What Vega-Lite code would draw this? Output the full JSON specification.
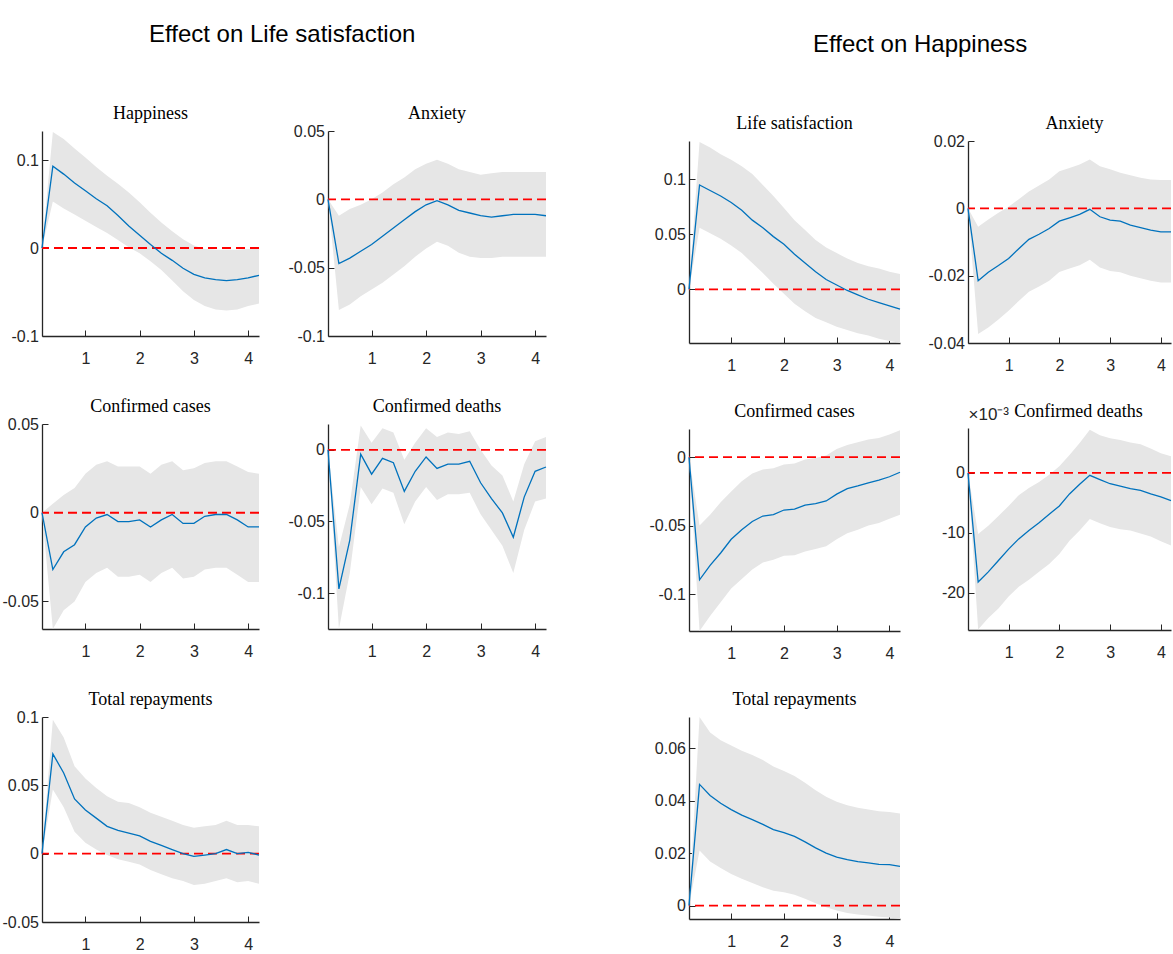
{
"$schema": "https://vega.github.io/schema/vega-lite/v6.json",
"background": "white",
"padding": {"left": 2, "top": 23, "right": 0, "bottom": 0},
"datasets": {
"L_hap": [
{"t":0.2,"m":0,"lo":0,"hi":0},{"t":0.4,"m":0.093,"lo":0.053,"hi":0.132},{"t":0.6,"m":0.084,"lo":0.045,"hi":0.124},{"t":0.8,"m":0.074,"lo":0.038,"hi":0.113},{"t":1.0,"m":0.065,"lo":0.031,"hi":0.103},{"t":1.2,"m":0.056,"lo":0.024,"hi":0.092},{"t":1.4,"m":0.048,"lo":0.017,"hi":0.082},{"t":1.6,"m":0.037,"lo":0.009,"hi":0.073},{"t":1.8,"m":0.025,"lo":0.001,"hi":0.063},{"t":2.0,"m":0.0145,"lo":-0.006,"hi":0.052},{"t":2.2,"m":0.004,"lo":-0.015,"hi":0.040},{"t":2.4,"m":-0.006,"lo":-0.025,"hi":0.029},{"t":2.6,"m":-0.014,"lo":-0.037,"hi":0.019},{"t":2.8,"m":-0.023,"lo":-0.049,"hi":0.010},{"t":3.0,"m":-0.030,"lo":-0.059,"hi":0.003},{"t":3.2,"m":-0.034,"lo":-0.066,"hi":-0.001},{"t":3.4,"m":-0.036,"lo":-0.070,"hi":-0.002},{"t":3.6,"m":-0.037,"lo":-0.071,"hi":-0.002},{"t":3.8,"m":-0.036,"lo":-0.070,"hi":-0.002},{"t":4.0,"m":-0.034,"lo":-0.066,"hi":-0.001},{"t":4.2,"m":-0.031,"lo":-0.063,"hi":-0.001}],
"L_anx": [
{"t":0.2,"m":0,"lo":0,"hi":0},{"t":0.4,"m":-0.047,"lo":-0.081,"hi":-0.012},{"t":0.6,"m":-0.043,"lo":-0.077,"hi":-0.007},{"t":0.8,"m":-0.038,"lo":-0.071,"hi":-0.004},{"t":1.0,"m":-0.033,"lo":-0.066,"hi":0.0},{"t":1.2,"m":-0.027,"lo":-0.061,"hi":0.005},{"t":1.4,"m":-0.021,"lo":-0.055,"hi":0.011},{"t":1.6,"m":-0.015,"lo":-0.049,"hi":0.016},{"t":1.8,"m":-0.009,"lo":-0.042,"hi":0.022},{"t":2.0,"m":-0.004,"lo":-0.036,"hi":0.026},{"t":2.2,"m":-0.001,"lo":-0.031,"hi":0.029},{"t":2.4,"m":-0.004,"lo":-0.034,"hi":0.026},{"t":2.6,"m":-0.008,"lo":-0.039,"hi":0.022},{"t":2.8,"m":-0.010,"lo":-0.042,"hi":0.020},{"t":3.0,"m":-0.012,"lo":-0.043,"hi":0.018},{"t":3.2,"m":-0.013,"lo":-0.043,"hi":0.019},{"t":3.4,"m":-0.012,"lo":-0.042,"hi":0.020},{"t":3.6,"m":-0.011,"lo":-0.042,"hi":0.020},{"t":3.8,"m":-0.011,"lo":-0.042,"hi":0.020},{"t":4.0,"m":-0.011,"lo":-0.042,"hi":0.020},{"t":4.2,"m":-0.012,"lo":-0.042,"hi":0.020}],
"L_cas": [
{"t":0.2,"m":0,"lo":0,"hi":0},{"t":0.4,"m":-0.032,"lo":-0.0655,"hi":0.005},{"t":0.6,"m":-0.022,"lo":-0.055,"hi":0.010},{"t":0.8,"m":-0.018,"lo":-0.050,"hi":0.014},{"t":1.0,"m":-0.008,"lo":-0.039,"hi":0.022},{"t":1.2,"m":-0.003,"lo":-0.034,"hi":0.027},{"t":1.4,"m":-0.001,"lo":-0.031,"hi":0.029},{"t":1.6,"m":-0.005,"lo":-0.036,"hi":0.026},{"t":1.8,"m":-0.005,"lo":-0.036,"hi":0.026},{"t":2.0,"m":-0.004,"lo":-0.035,"hi":0.026},{"t":2.2,"m":-0.008,"lo":-0.039,"hi":0.022},{"t":2.4,"m":-0.004,"lo":-0.034,"hi":0.027},{"t":2.6,"m":-0.001,"lo":-0.031,"hi":0.029},{"t":2.8,"m":-0.006,"lo":-0.037,"hi":0.024},{"t":3.0,"m":-0.006,"lo":-0.036,"hi":0.025},{"t":3.2,"m":-0.002,"lo":-0.032,"hi":0.028},{"t":3.4,"m":-0.001,"lo":-0.031,"hi":0.029},{"t":3.6,"m":-0.001,"lo":-0.031,"hi":0.029},{"t":3.8,"m":-0.004,"lo":-0.035,"hi":0.026},{"t":4.0,"m":-0.008,"lo":-0.039,"hi":0.023},{"t":4.2,"m":-0.008,"lo":-0.039,"hi":0.022}],
"L_dea": [
{"t":0.2,"m":0,"lo":0,"hi":0},{"t":0.4,"m":-0.097,"lo":-0.125,"hi":-0.068},{"t":0.6,"m":-0.063,"lo":-0.086,"hi":-0.038},{"t":0.8,"m":-0.003,"lo":-0.026,"hi":0.017},{"t":1.0,"m":-0.017,"lo":-0.038,"hi":0.005},{"t":1.2,"m":-0.006,"lo":-0.027,"hi":0.015},{"t":1.4,"m":-0.009,"lo":-0.030,"hi":0.012},{"t":1.6,"m":-0.029,"lo":-0.052,"hi":-0.007},{"t":1.8,"m":-0.015,"lo":-0.036,"hi":0.005},{"t":2.0,"m":-0.005,"lo":-0.026,"hi":0.015},{"t":2.2,"m":-0.013,"lo":-0.035,"hi":0.009},{"t":2.4,"m":-0.010,"lo":-0.031,"hi":0.012},{"t":2.6,"m":-0.010,"lo":-0.031,"hi":0.011},{"t":2.8,"m":-0.008,"lo":-0.030,"hi":0.013},{"t":3.0,"m":-0.023,"lo":-0.045,"hi":0.0},{"t":3.2,"m":-0.034,"lo":-0.056,"hi":-0.011},{"t":3.4,"m":-0.044,"lo":-0.067,"hi":-0.018},{"t":3.6,"m":-0.061,"lo":-0.086,"hi":-0.036},{"t":3.8,"m":-0.033,"lo":-0.056,"hi":-0.010},{"t":4.0,"m":-0.015,"lo":-0.036,"hi":0.006},{"t":4.2,"m":-0.012,"lo":-0.034,"hi":0.009}],
"L_rep": [
{"t":0.2,"m":0,"lo":0,"hi":0},{"t":0.4,"m":0.073,"lo":0.047,"hi":0.098},{"t":0.6,"m":0.059,"lo":0.034,"hi":0.085},{"t":0.8,"m":0.040,"lo":0.016,"hi":0.064},{"t":1.0,"m":0.032,"lo":0.008,"hi":0.055},{"t":1.2,"m":0.026,"lo":0.003,"hi":0.048},{"t":1.4,"m":0.020,"lo":-0.001,"hi":0.042},{"t":1.6,"m":0.017,"lo":-0.004,"hi":0.038},{"t":1.8,"m":0.015,"lo":-0.006,"hi":0.037},{"t":2.0,"m":0.013,"lo":-0.008,"hi":0.034},{"t":2.2,"m":0.009,"lo":-0.012,"hi":0.030},{"t":2.4,"m":0.006,"lo":-0.015,"hi":0.027},{"t":2.6,"m":0.003,"lo":-0.018,"hi":0.024},{"t":2.8,"m":0.0,"lo":-0.020,"hi":0.021},{"t":3.0,"m":-0.002,"lo":-0.023,"hi":0.019},{"t":3.2,"m":-0.001,"lo":-0.022,"hi":0.020},{"t":3.4,"m":0.0,"lo":-0.020,"hi":0.021},{"t":3.6,"m":0.003,"lo":-0.018,"hi":0.024},{"t":3.8,"m":0.0,"lo":-0.021,"hi":0.021},{"t":4.0,"m":0.001,"lo":-0.020,"hi":0.021},{"t":4.2,"m":-0.001,"lo":-0.022,"hi":0.020}],
"R_lif": [
{"t":0.2,"m":0,"lo":0,"hi":0},{"t":0.4,"m":0.095,"lo":0.056,"hi":0.134},{"t":0.6,"m":0.090,"lo":0.051,"hi":0.129},{"t":0.8,"m":0.085,"lo":0.046,"hi":0.123},{"t":1.0,"m":0.079,"lo":0.040,"hi":0.118},{"t":1.2,"m":0.072,"lo":0.033,"hi":0.112},{"t":1.4,"m":0.063,"lo":0.024,"hi":0.105},{"t":1.6,"m":0.056,"lo":0.015,"hi":0.095},{"t":1.8,"m":0.048,"lo":0.005,"hi":0.085},{"t":2.0,"m":0.041,"lo":-0.004,"hi":0.074},{"t":2.2,"m":0.032,"lo":-0.013,"hi":0.063},{"t":2.4,"m":0.024,"lo":-0.020,"hi":0.054},{"t":2.6,"m":0.016,"lo":-0.026,"hi":0.045},{"t":2.8,"m":0.009,"lo":-0.030,"hi":0.038},{"t":3.0,"m":0.004,"lo":-0.034,"hi":0.033},{"t":3.2,"m":-0.001,"lo":-0.037,"hi":0.028},{"t":3.4,"m":-0.005,"lo":-0.040,"hi":0.024},{"t":3.6,"m":-0.009,"lo":-0.042,"hi":0.021},{"t":3.8,"m":-0.012,"lo":-0.045,"hi":0.019},{"t":4.0,"m":-0.015,"lo":-0.047,"hi":0.016},{"t":4.2,"m":-0.018,"lo":-0.0485,"hi":0.014}],
"R_anx": [
{"t":0.2,"m":0,"lo":0,"hi":0},{"t":0.4,"m":-0.0215,"lo":-0.0373,"hi":-0.0055},{"t":0.6,"m":-0.019,"lo":-0.0354,"hi":-0.0033},{"t":0.8,"m":-0.017,"lo":-0.033,"hi":-0.0013},{"t":1.0,"m":-0.0149,"lo":-0.0304,"hi":0.0005},{"t":1.2,"m":-0.012,"lo":-0.0275,"hi":0.0027},{"t":1.4,"m":-0.0092,"lo":-0.0248,"hi":0.005},{"t":1.6,"m":-0.0077,"lo":-0.0232,"hi":0.0068},{"t":1.8,"m":-0.006,"lo":-0.0215,"hi":0.0086},{"t":2.0,"m":-0.0038,"lo":-0.0189,"hi":0.011},{"t":2.2,"m":-0.0028,"lo":-0.0179,"hi":0.012},{"t":2.4,"m":-0.0018,"lo":-0.0169,"hi":0.013},{"t":2.6,"m":-0.0003,"lo":-0.0153,"hi":0.0145},{"t":2.8,"m":-0.0025,"lo":-0.0176,"hi":0.0125},{"t":3.0,"m":-0.0035,"lo":-0.0186,"hi":0.0116},{"t":3.2,"m":-0.0038,"lo":-0.019,"hi":0.0106},{"t":3.4,"m":-0.005,"lo":-0.020,"hi":0.0098},{"t":3.6,"m":-0.0057,"lo":-0.0208,"hi":0.0091},{"t":3.8,"m":-0.0065,"lo":-0.0215,"hi":0.0086},{"t":4.0,"m":-0.007,"lo":-0.022,"hi":0.0084},{"t":4.2,"m":-0.007,"lo":-0.022,"hi":0.0084}],
"R_cas": [
{"t":0.2,"m":0,"lo":0,"hi":0},{"t":0.4,"m":-0.0896,"lo":-0.127,"hi":-0.050},{"t":0.6,"m":-0.079,"lo":-0.116,"hi":-0.042},{"t":0.8,"m":-0.070,"lo":-0.106,"hi":-0.033},{"t":1.0,"m":-0.060,"lo":-0.096,"hi":-0.025},{"t":1.2,"m":-0.053,"lo":-0.089,"hi":-0.0175},{"t":1.4,"m":-0.047,"lo":-0.082,"hi":-0.012},{"t":1.6,"m":-0.043,"lo":-0.077,"hi":-0.009},{"t":1.8,"m":-0.042,"lo":-0.075,"hi":-0.008},{"t":2.0,"m":-0.0386,"lo":-0.072,"hi":-0.0053},{"t":2.2,"m":-0.038,"lo":-0.0716,"hi":-0.0046},{"t":2.4,"m":-0.035,"lo":-0.069,"hi":-0.0017},{"t":2.6,"m":-0.034,"lo":-0.067,"hi":-0.0005},{"t":2.8,"m":-0.032,"lo":-0.065,"hi":0.0012},{"t":3.0,"m":-0.027,"lo":-0.060,"hi":0.006},{"t":3.2,"m":-0.023,"lo":-0.0556,"hi":0.009},{"t":3.4,"m":-0.021,"lo":-0.053,"hi":0.011},{"t":3.6,"m":-0.0187,"lo":-0.050,"hi":0.0129},{"t":3.8,"m":-0.0167,"lo":-0.048,"hi":0.014},{"t":4.0,"m":-0.0143,"lo":-0.045,"hi":0.0165},{"t":4.2,"m":-0.011,"lo":-0.042,"hi":0.0197}],
"R_dea": [
{"t":0.2,"m":0,"lo":0,"hi":0},{"t":0.4,"m":-0.0182,"lo":-0.0261,"hi":-0.0102},{"t":0.6,"m":-0.0165,"lo":-0.0242,"hi":-0.0088},{"t":0.8,"m":-0.0146,"lo":-0.0226,"hi":-0.0072},{"t":1.0,"m":-0.0127,"lo":-0.0206,"hi":-0.0055},{"t":1.2,"m":-0.0110,"lo":-0.0190,"hi":-0.0037},{"t":1.4,"m":-0.0096,"lo":-0.0178,"hi":-0.0025},{"t":1.6,"m":-0.0083,"lo":-0.0165,"hi":-0.0015},{"t":1.8,"m":-0.0069,"lo":-0.0152,"hi":-0.0003},{"t":2.0,"m":-0.0055,"lo":-0.0135,"hi":0.0011},{"t":2.2,"m":-0.0035,"lo":-0.0113,"hi":0.0030},{"t":2.4,"m":-0.0019,"lo":-0.0096,"hi":0.0050},{"t":2.6,"m":-0.0004,"lo":-0.0077,"hi":0.0072},{"t":2.8,"m":-0.0011,"lo":-0.0084,"hi":0.0063},{"t":3.0,"m":-0.0018,"lo":-0.0090,"hi":0.0058},{"t":3.2,"m":-0.0022,"lo":-0.0094,"hi":0.0055},{"t":3.4,"m":-0.0026,"lo":-0.0096,"hi":0.0051},{"t":3.6,"m":-0.0029,"lo":-0.0101,"hi":0.0048},{"t":3.8,"m":-0.0035,"lo":-0.0106,"hi":0.0041},{"t":4.0,"m":-0.0040,"lo":-0.0114,"hi":0.0033},{"t":4.2,"m":-0.0046,"lo":-0.0121,"hi":0.0028}],
"R_rep": [
{"t":0.2,"m":0,"lo":0,"hi":0},{"t":0.4,"m":0.0462,"lo":0.021,"hi":0.0719},{"t":0.6,"m":0.042,"lo":0.0168,"hi":0.066},{"t":0.8,"m":0.039,"lo":0.0143,"hi":0.063},{"t":1.0,"m":0.0366,"lo":0.0121,"hi":0.061},{"t":1.2,"m":0.0345,"lo":0.0102,"hi":0.059},{"t":1.4,"m":0.0328,"lo":0.0086,"hi":0.0574},{"t":1.6,"m":0.031,"lo":0.007,"hi":0.0555},{"t":1.8,"m":0.029,"lo":0.0057,"hi":0.053},{"t":2.0,"m":0.0278,"lo":0.0051,"hi":0.0513},{"t":2.2,"m":0.0264,"lo":0.0041,"hi":0.0494},{"t":2.4,"m":0.0243,"lo":0.0026,"hi":0.0468},{"t":2.6,"m":0.022,"lo":0.0009,"hi":0.044},{"t":2.8,"m":0.020,"lo":-0.0006,"hi":0.0415},{"t":3.0,"m":0.0185,"lo":-0.0019,"hi":0.0396},{"t":3.2,"m":0.0175,"lo":-0.0028,"hi":0.0383},{"t":3.4,"m":0.0168,"lo":-0.0034,"hi":0.0373},{"t":3.6,"m":0.0163,"lo":-0.0038,"hi":0.0366},{"t":3.8,"m":0.0157,"lo":-0.0042,"hi":0.036},{"t":4.0,"m":0.0156,"lo":-0.0045,"hi":0.0357},{"t":4.2,"m":0.015,"lo":-0.0051,"hi":0.0351}]
},
"spacing": 100,
"hconcat": [
{
"title": {"text": "Effect on Life satisfaction", "anchor": "start", "frame": "group", "dx": 107, "offset": 56, "font": "Liberation Sans", "fontSize": 24, "fontWeight": "normal", "color": "#000000"},
"spacing": 0,
"vconcat": [
{"width": 1, "height": 2, "data": {"values": []}, "mark": {"type": "point", "opacity": 0, "size": 0}, "encoding": {}},
{"spacing": 26, "hconcat": [
{"spacing": 32, "vconcat": [
{"width": 217, "height": 205, "title": {"text": "Happiness", "offset": 8}, "data": {"name": "L_hap"},
 "layer": [
 {"mark": {"type": "area", "color": "#e6e6e6"}, "encoding": {"x": {"field": "t", "type": "quantitative", "title": null, "scale": {"domain": [0.2, 4.2], "nice": false, "zero": false}, "axis": {"values": [1, 2, 3, 4], "labelExpr": "toString(datum.value)"}}, "y": {"field": "lo", "type": "quantitative", "title": null, "scale": {"domain": [-0.1, 0.133], "nice": false, "zero": false}, "axis": {"values": [-0.1, 0, 0.1], "labelExpr": "toString(datum.value)"}}, "y2": {"field": "hi"}}},
 {"data": {"values": [{"z": 0}]}, "mark": {"type": "rule", "color": "#ff0000", "strokeDash": [9, 5], "strokeWidth": 1.8}, "encoding": {"y": {"field": "z", "type": "quantitative", "title": null}}},
 {"mark": {"type": "line", "color": "#0072bd", "strokeWidth": 1.3}, "encoding": {"x": {"field": "t", "type": "quantitative", "title": null}, "y": {"field": "m", "type": "quantitative", "title": null}}}
 ]},
{"width": 217, "height": 205, "title": {"text": "Confirmed cases", "offset": 0}, "data": {"name": "L_cas"},
 "layer": [
 {"mark": {"type": "area", "color": "#e6e6e6"}, "encoding": {"x": {"field": "t", "type": "quantitative", "title": null, "scale": {"domain": [0.2, 4.2], "nice": false, "zero": false}, "axis": {"values": [1, 2, 3, 4], "labelExpr": "toString(datum.value)"}}, "y": {"field": "lo", "type": "quantitative", "title": null, "scale": {"domain": [-0.0655, 0.05], "nice": false, "zero": false}, "axis": {"values": [-0.05, 0, 0.05], "labelExpr": "toString(datum.value)"}}, "y2": {"field": "hi"}}},
 {"data": {"values": [{"z": 0}]}, "mark": {"type": "rule", "color": "#ff0000", "strokeDash": [9, 5], "strokeWidth": 1.8}, "encoding": {"y": {"field": "z", "type": "quantitative", "title": null}}},
 {"mark": {"type": "line", "color": "#0072bd", "strokeWidth": 1.3}, "encoding": {"x": {"field": "t", "type": "quantitative", "title": null}, "y": {"field": "m", "type": "quantitative", "title": null}}}
 ]},
{"width": 217, "height": 205, "title": {"text": "Total repayments", "offset": 0}, "data": {"name": "L_rep"},
 "layer": [
 {"mark": {"type": "area", "color": "#e6e6e6"}, "encoding": {"x": {"field": "t", "type": "quantitative", "title": null, "scale": {"domain": [0.2, 4.2], "nice": false, "zero": false}, "axis": {"values": [1, 2, 3, 4], "labelExpr": "toString(datum.value)"}}, "y": {"field": "lo", "type": "quantitative", "title": null, "scale": {"domain": [-0.05, 0.1], "nice": false, "zero": false}, "axis": {"values": [-0.05, 0, 0.05, 0.1], "labelExpr": "toString(datum.value)"}}, "y2": {"field": "hi"}}},
 {"data": {"values": [{"z": 0}]}, "mark": {"type": "rule", "color": "#ff0000", "strokeDash": [9, 5], "strokeWidth": 1.8}, "encoding": {"y": {"field": "z", "type": "quantitative", "title": null}}},
 {"mark": {"type": "line", "color": "#0072bd", "strokeWidth": 1.3}, "encoding": {"x": {"field": "t", "type": "quantitative", "title": null}, "y": {"field": "m", "type": "quantitative", "title": null}}}
 ]}
]},
{"spacing": 32, "vconcat": [
{"width": 218, "height": 205, "title": {"text": "Anxiety", "offset": 0}, "data": {"name": "L_anx"},
 "layer": [
 {"mark": {"type": "area", "color": "#e6e6e6"}, "encoding": {"x": {"field": "t", "type": "quantitative", "title": null, "scale": {"domain": [0.2, 4.2], "nice": false, "zero": false}, "axis": {"values": [1, 2, 3, 4], "labelExpr": "toString(datum.value)"}}, "y": {"field": "lo", "type": "quantitative", "title": null, "scale": {"domain": [-0.1, 0.05], "nice": false, "zero": false}, "axis": {"values": [-0.1, -0.05, 0, 0.05], "labelExpr": "toString(datum.value)"}}, "y2": {"field": "hi"}}},
 {"data": {"values": [{"z": 0}]}, "mark": {"type": "rule", "color": "#ff0000", "strokeDash": [9, 5], "strokeWidth": 1.8}, "encoding": {"y": {"field": "z", "type": "quantitative", "title": null}}},
 {"mark": {"type": "line", "color": "#0072bd", "strokeWidth": 1.3}, "encoding": {"x": {"field": "t", "type": "quantitative", "title": null}, "y": {"field": "m", "type": "quantitative", "title": null}}}
 ]},
{"width": 218, "height": 205, "title": {"text": "Confirmed deaths", "offset": 8}, "data": {"name": "L_dea"},
 "layer": [
 {"mark": {"type": "area", "color": "#e6e6e6"}, "encoding": {"x": {"field": "t", "type": "quantitative", "title": null, "scale": {"domain": [0.2, 4.2], "nice": false, "zero": false}, "axis": {"values": [1, 2, 3, 4], "labelExpr": "toString(datum.value)"}}, "y": {"field": "lo", "type": "quantitative", "title": null, "scale": {"domain": [-0.125, 0.018], "nice": false, "zero": false}, "axis": {"values": [-0.1, -0.05, 0], "labelExpr": "toString(datum.value)"}}, "y2": {"field": "hi"}}},
 {"data": {"values": [{"z": 0}]}, "mark": {"type": "rule", "color": "#ff0000", "strokeDash": [9, 5], "strokeWidth": 1.8}, "encoding": {"y": {"field": "z", "type": "quantitative", "title": null}}},
 {"mark": {"type": "line", "color": "#0072bd", "strokeWidth": 1.3}, "encoding": {"x": {"field": "t", "type": "quantitative", "title": null}, "y": {"field": "m", "type": "quantitative", "title": null}}}
 ]}
]}
]}
]
},
{
"title": {"text": "Effect on Happiness", "anchor": "start", "frame": "group", "dx": 124, "dy": 10, "offset": 56, "font": "Liberation Sans", "fontSize": 24, "fontWeight": "normal", "color": "#000000"},
"spacing": 0,
"vconcat": [
{"width": 1, "height": 12, "data": {"values": []}, "mark": {"type": "point", "opacity": 0, "size": 0}, "encoding": {}},
{"spacing": 25, "hconcat": [
{"spacing": 30, "vconcat": [
{"width": 211, "height": 202, "title": {"text": "Life satisfaction", "offset": 8}, "data": {"name": "R_lif"},
 "layer": [
 {"mark": {"type": "area", "color": "#e6e6e6"}, "encoding": {"x": {"field": "t", "type": "quantitative", "title": null, "scale": {"domain": [0.2, 4.2], "nice": false, "zero": false}, "axis": {"values": [1, 2, 3, 4], "labelExpr": "toString(datum.value)"}}, "y": {"field": "lo", "type": "quantitative", "title": null, "scale": {"domain": [-0.0488, 0.135], "nice": false, "zero": false}, "axis": {"values": [0, 0.05, 0.1], "labelExpr": "toString(datum.value)"}}, "y2": {"field": "hi"}}},
 {"data": {"values": [{"z": 0}]}, "mark": {"type": "rule", "color": "#ff0000", "strokeDash": [9, 5], "strokeWidth": 1.8}, "encoding": {"y": {"field": "z", "type": "quantitative", "title": null}}},
 {"mark": {"type": "line", "color": "#0072bd", "strokeWidth": 1.3}, "encoding": {"x": {"field": "t", "type": "quantitative", "title": null}, "y": {"field": "m", "type": "quantitative", "title": null}}}
 ]},
{"width": 211, "height": 202, "title": {"text": "Confirmed cases", "offset": 8}, "data": {"name": "R_cas"},
 "layer": [
 {"mark": {"type": "area", "color": "#e6e6e6"}, "encoding": {"x": {"field": "t", "type": "quantitative", "title": null, "scale": {"domain": [0.2, 4.2], "nice": false, "zero": false}, "axis": {"values": [1, 2, 3, 4], "labelExpr": "toString(datum.value)"}}, "y": {"field": "lo", "type": "quantitative", "title": null, "scale": {"domain": [-0.127, 0.0206], "nice": false, "zero": false}, "axis": {"values": [-0.1, -0.05, 0], "labelExpr": "toString(datum.value)"}}, "y2": {"field": "hi"}}},
 {"data": {"values": [{"z": 0}]}, "mark": {"type": "rule", "color": "#ff0000", "strokeDash": [9, 5], "strokeWidth": 1.8}, "encoding": {"y": {"field": "z", "type": "quantitative", "title": null}}},
 {"mark": {"type": "line", "color": "#0072bd", "strokeWidth": 1.3}, "encoding": {"x": {"field": "t", "type": "quantitative", "title": null}, "y": {"field": "m", "type": "quantitative", "title": null}}}
 ]},
{"width": 211, "height": 202, "title": {"text": "Total repayments", "offset": 8}, "data": {"name": "R_rep"},
 "layer": [
 {"mark": {"type": "area", "color": "#e6e6e6"}, "encoding": {"x": {"field": "t", "type": "quantitative", "title": null, "scale": {"domain": [0.2, 4.2], "nice": false, "zero": false}, "axis": {"values": [1, 2, 3, 4], "labelExpr": "toString(datum.value)"}}, "y": {"field": "lo", "type": "quantitative", "title": null, "scale": {"domain": [-0.0051, 0.0719], "nice": false, "zero": false}, "axis": {"values": [0, 0.02, 0.04, 0.06], "labelExpr": "toString(datum.value)"}}, "y2": {"field": "hi"}}},
 {"data": {"values": [{"z": 0}]}, "mark": {"type": "rule", "color": "#ff0000", "strokeDash": [9, 5], "strokeWidth": 1.8}, "encoding": {"y": {"field": "z", "type": "quantitative", "title": null}}},
 {"mark": {"type": "line", "color": "#0072bd", "strokeWidth": 1.3}, "encoding": {"x": {"field": "t", "type": "quantitative", "title": null}, "y": {"field": "m", "type": "quantitative", "title": null}}}
 ]}
]},
{"spacing": 30, "vconcat": [
{"width": 203, "height": 202, "title": {"text": "Anxiety", "offset": 0, "dx": 5}, "data": {"name": "R_anx"},
 "layer": [
 {"mark": {"type": "area", "color": "#e6e6e6"}, "encoding": {"x": {"field": "t", "type": "quantitative", "title": null, "scale": {"domain": [0.2, 4.2], "nice": false, "zero": false}, "axis": {"values": [1, 2, 3, 4], "labelExpr": "toString(datum.value)"}}, "y": {"field": "lo", "type": "quantitative", "title": null, "scale": {"domain": [-0.04, 0.02], "nice": false, "zero": false}, "axis": {"values": [-0.04, -0.02, 0, 0.02], "labelExpr": "toString(datum.value)"}}, "y2": {"field": "hi"}}},
 {"data": {"values": [{"z": 0}]}, "mark": {"type": "rule", "color": "#ff0000", "strokeDash": [9, 5], "strokeWidth": 1.8}, "encoding": {"y": {"field": "z", "type": "quantitative", "title": null}}},
 {"mark": {"type": "line", "color": "#0072bd", "strokeWidth": 1.3}, "encoding": {"x": {"field": "t", "type": "quantitative", "title": null}, "y": {"field": "m", "type": "quantitative", "title": null}}}
 ]},
{"width": 203, "height": 202, "title": {"text": "Confirmed deaths", "offset": -16, "dx": 9}, "data": {"name": "R_dea"},
 "layer": [
 {"mark": {"type": "area", "color": "#e6e6e6"}, "encoding": {"x": {"field": "t", "type": "quantitative", "title": null, "scale": {"domain": [0.2, 4.2], "nice": false, "zero": false}, "axis": {"values": [1, 2, 3, 4], "labelExpr": "toString(datum.value)"}}, "y": {"field": "lo", "type": "quantitative", "title": "×10⁻³", "scale": {"domain": [-0.0262, 0.0075], "nice": false, "zero": false}, "axis": {"values": [-0.02, -0.01, 0], "labelExpr": "toString(round(datum.value*1000))", "titleAngle": 0, "titleAlign": "left", "titleBaseline": "bottom", "titleX": 0, "titleY": -5, "titleFontSize": 17}}, "y2": {"field": "hi"}}},
 {"data": {"values": [{"z": 0}]}, "mark": {"type": "rule", "color": "#ff0000", "strokeDash": [9, 5], "strokeWidth": 1.8}, "encoding": {"y": {"field": "z", "type": "quantitative", "title": "×10⁻³"}}},
 {"mark": {"type": "line", "color": "#0072bd", "strokeWidth": 1.3}, "encoding": {"x": {"field": "t", "type": "quantitative", "title": null}, "y": {"field": "m", "type": "quantitative", "title": "×10⁻³"}}}
 ]}
]}
]}
]
}
],
"config": {
"view": {"stroke": null},
"font": "Liberation Sans",
"axis": {"grid": false, "domainColor": "#262626", "domainWidth": 1.3, "tickColor": "#262626", "tickWidth": 1, "tickSize": -6, "labelFont": "Liberation Sans", "labelFontSize": 16, "labelColor": "#262626", "titleFont": "Liberation Sans", "titleFontSize": 16, "titleFontWeight": "normal", "titleColor": "#262626"},
"axisX": {"labelPadding": 20},
"axisY": {"labelPadding": 9.5},
"title": {"font": "Liberation Serif", "fontSize": 18, "fontWeight": "normal", "color": "#000000", "frame": "group", "anchor": "middle"}
}
}
